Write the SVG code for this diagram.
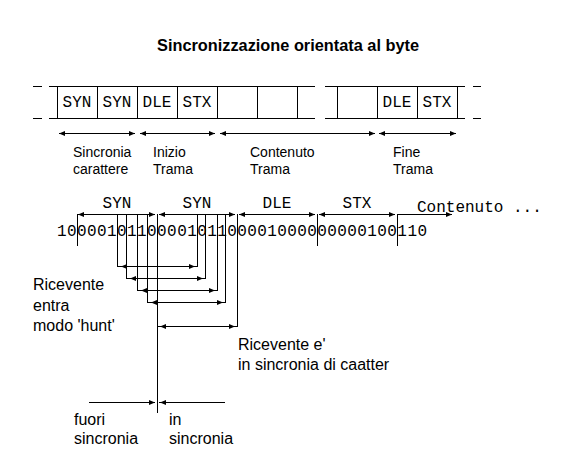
<svg xmlns="http://www.w3.org/2000/svg" width="587" height="469" viewBox="0 0 587 469">
<style>
.ln{stroke:#000;stroke-width:1;fill:none;shape-rendering:crispEdges}
.ar{stroke:#000;stroke-width:1;fill:none;marker-start:url(#ah);marker-end:url(#ah)}
.ae{stroke:#000;stroke-width:1;fill:none;marker-end:url(#ah)}
.t{font-family:"Liberation Sans",Arial,sans-serif;font-size:14px;fill:#000}
.tl{font-family:"Liberation Sans",Arial,sans-serif;font-size:16px;fill:#000}
.m{font-family:"Liberation Mono","Courier New",monospace;font-size:16px;fill:#000}
.title{font-family:"Liberation Sans",Arial,sans-serif;font-size:16px;font-weight:bold;fill:#000}
</style>
<defs>
<marker id="ah" viewBox="0 0 6 5" refX="6" refY="2.5" markerWidth="6" markerHeight="5" markerUnits="userSpaceOnUse" orient="auto-start-reverse">
<path d="M0,0 L6,2.5 L0,5 z" fill="#000"/>
</marker>
</defs>
<rect width="587" height="469" fill="#fff"/>
<g id="title">
<text class="title" x="288" y="51" text-anchor="middle" textLength="262" lengthAdjust="spacingAndGlyphs">Sincronizzazione orientata al byte</text>
</g>
<g id="frame">
<path class="ln" d="M33,86.5H42M33,118.5H42M49,86.5H315M49,118.5H315M325,86.5H465M325,118.5H465M473,86.5H481M473,118.5H481"/>
<path class="ln" d="M57.5,86V119M97.5,86V119M137.5,86V119M177.5,86V119M217.5,86V119M257.5,86V119M297.5,86V119M337.5,86V119M377.5,86V119M417.5,86V119M457.5,86V119"/>
<text class="m" x="77" y="107" text-anchor="middle">SYN</text>
<text class="m" x="117" y="107" text-anchor="middle">SYN</text>
<text class="m" x="157" y="107" text-anchor="middle">DLE</text>
<text class="m" x="197" y="107" text-anchor="middle">STX</text>
<text class="m" x="397" y="107" text-anchor="middle">DLE</text>
<text class="m" x="437" y="107" text-anchor="middle">STX</text>
</g>
<g id="frame-parts">
<line class="ar" x1="59" y1="133.5" x2="135" y2="133.5"/>
<line class="ar" x1="140" y1="133.5" x2="215" y2="133.5"/>
<line class="ar" x1="220" y1="133.5" x2="375" y2="133.5"/>
<line class="ar" x1="379" y1="133.5" x2="456" y2="133.5"/>
<text class="t" x="73" y="157">Sincronia</text>
<text class="t" x="73" y="174">carattere</text>
<text class="t" x="153" y="157">Inizio</text>
<text class="t" x="153" y="174">Trama</text>
<text class="t" x="250" y="157">Contenuto</text>
<text class="t" x="250" y="174">Trama</text>
<text class="t" x="393" y="157">Fine</text>
<text class="t" x="393" y="174">Trama</text>
</g>
<g id="bits">
<text class="m" x="57" y="236" textLength="370" lengthAdjust="spacing">1000010110000101100001000000000100110</text>
<text class="m" x="117" y="208" text-anchor="middle">SYN</text>
<text class="m" x="197" y="208" text-anchor="middle">SYN</text>
<text class="m" x="277" y="208" text-anchor="middle">DLE</text>
<text class="m" x="357" y="208" text-anchor="middle">STX</text>
<text class="m" x="417" y="212">Contenuto ...</text>
</g>
<g id="connectors">
<path class="ln" d="M77.5,214V246M317.5,214V246M397.5,214V246M157.5,214V413"/>
<line class="ar" x1="78" y1="214.5" x2="155" y2="214.5"/>
<line class="ar" x1="159" y1="214.5" x2="235" y2="214.5"/>
<line class="ar" x1="239" y1="214.5" x2="315" y2="214.5"/>
<line class="ar" x1="319" y1="214.5" x2="395" y2="214.5"/>
<line class="ae" x1="398" y1="214.5" x2="452" y2="214.5"/>
<path class="ln" d="M117.5,214V266.5H197.5V214"/>
<line class="ar" x1="121" y1="266.5" x2="195" y2="266.5"/>
<path class="ln" d="M126.5,214V278.5H205.5V214"/>
<line class="ar" x1="130" y1="278.5" x2="203" y2="278.5"/>
<path class="ln" d="M137.5,214V290.5H217.5V214"/>
<line class="ar" x1="141" y1="290.5" x2="215" y2="290.5"/>
<path class="ln" d="M147.5,214V302.5H225.5V214"/>
<line class="ar" x1="151" y1="302.5" x2="223" y2="302.5"/>
<path class="ln" d="M237.5,214V326.5H157.5"/>
<line class="ar" x1="160" y1="326.5" x2="235" y2="326.5"/>
<path class="ln" d="M89,402.5H155M159,402.5H225"/>
<line class="ae" x1="89" y1="402.5" x2="155" y2="402.5"/>
<line class="ae" x1="225" y1="402.5" x2="160" y2="402.5"/>
</g>
<g id="labels">
<text class="tl" x="33" y="290">Ricevente</text>
<text class="tl" x="33" y="311">entra</text>
<text class="tl" x="33" y="331">modo 'hunt'</text>
<text class="tl" x="238" y="350">Ricevente e'</text>
<text class="tl" x="238" y="370">in sincronia di caatter</text>
<text class="tl" x="74" y="425">fuori</text>
<text class="tl" x="74" y="444">sincronia</text>
<text class="tl" x="169" y="425">in</text>
<text class="tl" x="169" y="444">sincronia</text>
</g>
</svg>
